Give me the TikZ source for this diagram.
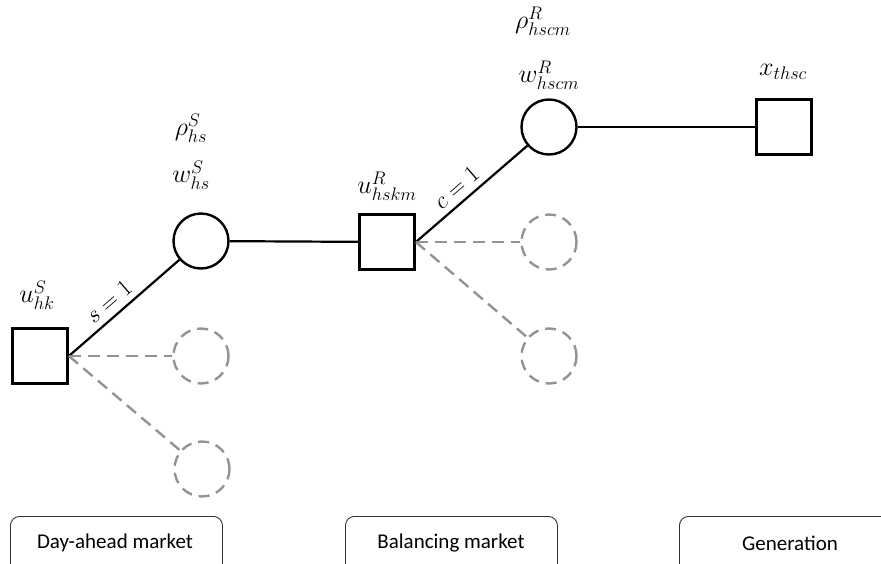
\documentclass[tikz,border=0pt]{standalone}
\usepackage{fix-cm}
\usepackage{fontspec}
\newfontfamily\boxfont{Carlito}
\begin{document}
\begin{tikzpicture}[x=1pt,y=-1pt,
  sq/.style={draw, line width=2.8pt, minimum size=55pt, inner sep=0pt},
  circ/.style={circle, draw, line width=2.4pt, minimum size=55pt, inner sep=0pt},
  dcirc/.style={circle, draw=gray!85, line width=2.4pt, dash pattern=on 11pt off 7pt, minimum size=55pt, inner sep=0pt},
  link/.style={line width=2.2pt},
  dlink/.style={draw=gray!85, line width=2.4pt, dash pattern=on 12pt off 7pt},
  lab/.style={inner sep=0pt, font=\fontsize{26}{30}\selectfont},
  edgelab/.style={font=\fontsize{24}{28}\selectfont, sloped, above, inner sep=6pt},
  market/.style={draw=black!80, line width=0.9pt, rounded corners=9pt, minimum width=212pt, minimum height=60pt, anchor=north west},
  mtext/.style={font=\boxfont\fontsize{21}{25}\selectfont, inner sep=0pt}
]
\useasboundingbox (0,0) rectangle (881,563);
\clip (0,0) rectangle (881,563);

% nodes
\node[sq] (s1) at (40,356) {};
\node[circ] (c1) at (201,241) {};
\node[dcirc] (d1) at (201,356) {};
\node[dcirc] (d2) at (202,469) {};
\node[sq] (s2) at (387,242) {};
\node[circ] (c2) at (549,127) {};
\node[dcirc] (d3) at (549,242) {};
\node[dcirc] (d4) at (549,356) {};
\node[sq] (s3) at (784,127) {};

% labels
\node[lab] (l1) at (37,295) {$u_{hk}^{S}$};
\node[lab] (l2) at (191,128) {$\rho_{hs}^{S}$};
\node[lab] (l3) at (191,175) {$w_{hs}^{S}$};
\node[lab] (l4) at (387,186) {$u_{hskm}^{R}$};
\node[lab] (l5) at (543,21) {$\rho_{hscm}^{R}$};
\node[lab] (l6) at (549,75) {$w_{hscm}^{R}$};
\node[lab] (l7) at (783,72) {$x_{thsc}$};

% connectors
\draw[link] (s1.east) -- node[edgelab, pos=0.45] {$s=1$} (c1);
\draw[dlink] (s1.east) -- (d1);
\draw[dlink] (s1.east) -- (d2);
\draw[link] (c1) -- (s2);
\draw[link] (s2.east) -- node[edgelab, pos=0.45] {$c=1$} (c2);
\draw[dlink] (s2.east) -- (d3);
\draw[dlink] (s2.east) -- (d4);
\draw[link] (c2) -- (s3);

% market boxes
\node[market] (m1) at (10,516) {};
\node[market] (m2) at (345,516) {};
\node[market] (m3) at (679,516) {};
\node[mtext] (t1) at (115,543) {Day-ahead market};
\node[mtext] (t2) at (451,543) {Balancing market};
\node[mtext] (t3) at (790,543) {Generation};
\end{tikzpicture}
\end{document}
